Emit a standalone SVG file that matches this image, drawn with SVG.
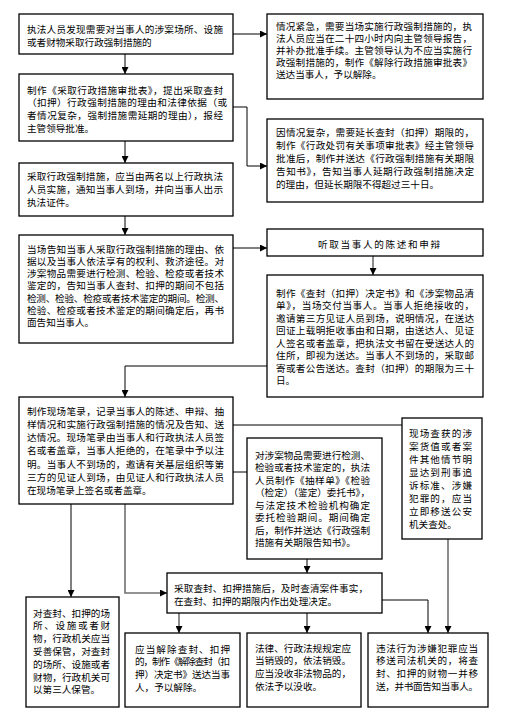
<svg xmlns="http://www.w3.org/2000/svg" width="530" height="724" viewBox="0 0 530 724">
<style>
.b{fill:#fff;stroke:#000;stroke-width:1.3}
.t{font-family:"Noto Sans CJK SC","Noto Sans CJK TC",sans-serif;font-size:9.6px;fill:#000}
.c{fill:none;stroke:#000;stroke-width:1}
.g{fill:none;stroke:#707070;stroke-width:1.6}
</style>
<defs>
<marker id="ah" viewBox="0 0 8 8" refX="8" refY="4" markerWidth="7" markerHeight="7" orient="auto" markerUnits="userSpaceOnUse"><path d="M0,0 L8,4 L0,8 z" fill="#000"/></marker>
</defs>
<rect width="530" height="724" fill="#fff"/>
<g id="connectors">
<path class="c" d="M233,34 H267" marker-end="url(#ah)"/>
<path class="c" d="M125,54 V74" marker-end="url(#ah)"/>
<path class="c" d="M233,107 H247 V166 H267" marker-end="url(#ah)"/>
<path class="c" d="M125,141 V163" marker-end="url(#ah)"/>
<path class="c" d="M125,216 V235" marker-end="url(#ah)"/>
<path class="c" d="M233,248 H267" marker-end="url(#ah)"/>
<path class="g" d="M373,256 V275" marker-end="url(#ah)"/>
<path class="c" d="M267,366 H125 V397" marker-end="url(#ah)"/>
<path class="c" d="M233,425 H402"/>
<path class="c" d="M233,472 H247"/>
<path class="c" d="M307,559 V573" marker-end="url(#ah)"/>
<path class="c" d="M71,504 V597" marker-end="url(#ah)"/>
<path class="g" d="M125,504 V593 H167" marker-end="url(#ah)"/>
<path class="g" d="M179,613 V633" marker-end="url(#ah)"/>
<path class="c" d="M307,613 V633" marker-end="url(#ah)"/>
<path class="c" d="M382,600 H428 V633" marker-end="url(#ah)"/>
<path class="g" d="M448,539 V633" marker-end="url(#ah)"/>
</g>
<g id="nodeA">
<rect class="b" x="19" y="14" width="214" height="40"/>
<text class="t" x="27" y="33" textLength="196" lengthAdjust="spacing">执法人员发现需要对当事人的涉案场所、设施</text>
<text class="t" x="27" y="46">或者财物采取行政强制措施的</text>
</g>
<g id="nodeB">
<rect class="b" x="267" y="14" width="216" height="85"/>
<text class="t" x="276" y="29.5" textLength="196" lengthAdjust="spacing">情况紧急，需要当场实施行政强制措施的，执</text>
<text class="t" x="276" y="41.5" textLength="196" lengthAdjust="spacing">法人员应当在二十四小时内向主管领导报告，</text>
<text class="t" x="276" y="53.5" textLength="196" lengthAdjust="spacing">并补办批准手续。主管领导认为不应当实施行</text>
<text class="t" x="276" y="65.5" textLength="196" lengthAdjust="spacing">政强制措施的，制作《解除行政措施审批表》</text>
<text class="t" x="276" y="77.5">送达当事人，予以解除。</text>
</g>
<g id="nodeC">
<rect class="b" x="19" y="74" width="214" height="67"/>
<text class="t" x="27" y="93.5" textLength="196" lengthAdjust="spacing">制作《采取行政措施审批表》，提出采取查封</text>
<text class="t" x="27" y="106" textLength="200" lengthAdjust="spacing">（扣押）行政强制措施的理由和法律依据（或</text>
<text class="t" x="27" y="119" textLength="196" lengthAdjust="spacing">者情况复杂，强制措施需延期的理由），报经</text>
<text class="t" x="27" y="131.5">主管领导批准。</text>
</g>
<g id="nodeD">
<rect class="b" x="267" y="119" width="216" height="83"/>
<text class="t" x="276" y="135.5" textLength="198" lengthAdjust="spacing">因情况复杂，需要延长查封（扣押）期限的，</text>
<text class="t" x="276" y="148.5" textLength="198" lengthAdjust="spacing">制作《行政处罚有关事项审批表》经主管领导</text>
<text class="t" x="276" y="161.5" textLength="198" lengthAdjust="spacing">批准后，制作并送达《行政强制措施有关期限</text>
<text class="t" x="276" y="174.5" textLength="198" lengthAdjust="spacing">告知书》，告知当事人延期行政强制措施决定</text>
<text class="t" x="276" y="187.5">的理由，但延长期限不得超过三十日。</text>
</g>
<g id="nodeE">
<rect class="b" x="19" y="163" width="214" height="53"/>
<text class="t" x="27" y="179.5" textLength="196" lengthAdjust="spacing">采取行政强制措施，应当由两名以上行政执法</text>
<text class="t" x="27" y="192.5" textLength="196" lengthAdjust="spacing">人员实施，通知当事人到场，并向当事人出示</text>
<text class="t" x="27" y="205.5">执法证件。</text>
</g>
<g id="nodeF">
<rect class="b" x="19" y="235" width="214" height="108"/>
<text class="t" x="27" y="252.5" textLength="197" lengthAdjust="spacing">当场告知当事人采取行政强制措施的理由、依</text>
<text class="t" x="27" y="264.8" textLength="197" lengthAdjust="spacing">据以及当事人依法享有的权利、救济途径。对</text>
<text class="t" x="27" y="277.1" textLength="197" lengthAdjust="spacing">涉案物品需要进行检测、检验、检疫或者技术</text>
<text class="t" x="27" y="289.4" textLength="197" lengthAdjust="spacing">鉴定的，告知当事人查封、扣押的期间不包括</text>
<text class="t" x="27" y="301.7" textLength="197" lengthAdjust="spacing">检测、检验、检疫或者技术鉴定的期间。检测、</text>
<text class="t" x="27" y="314" textLength="197" lengthAdjust="spacing">检验、检疫或者技术鉴定的期间确定后，再书</text>
<text class="t" x="27" y="326.3">面告知当事人。</text>
</g>
<g id="nodeG">
<rect class="b" x="267" y="229" width="216" height="27"/>
<text class="t" x="318" y="247.5" textLength="122" lengthAdjust="spacing">听取当事人的陈述和申辩</text>
</g>
<g id="nodeH">
<rect class="b" x="267" y="275" width="216" height="122"/>
<text class="t" x="276" y="296.5" textLength="198" lengthAdjust="spacing">制作《查封（扣押）决定书》和《涉案物品清</text>
<text class="t" x="276" y="309" textLength="198" lengthAdjust="spacing">单》，当场交付当事人。当事人拒绝接收的，</text>
<text class="t" x="276" y="321.5" textLength="198" lengthAdjust="spacing">邀请第三方见证人员到场，说明情况，在送达</text>
<text class="t" x="276" y="334" textLength="198" lengthAdjust="spacing">回证上载明拒收事由和日期，由送达人、见证</text>
<text class="t" x="276" y="346.5" textLength="198" lengthAdjust="spacing">人签名或者盖章，把执法文书留在受送达人的</text>
<text class="t" x="276" y="359" textLength="198" lengthAdjust="spacing">住所，即视为送达。当事人不到场的，采取邮</text>
<text class="t" x="276" y="371.5" textLength="198" lengthAdjust="spacing">寄或者公告送达。查封（扣押）的期限为三十</text>
<text class="t" x="276" y="384">日。</text>
</g>
<g id="nodeI">
<rect class="b" x="19" y="397" width="214" height="107"/>
<text class="t" x="27" y="414.5" textLength="197" lengthAdjust="spacing">制作现场笔录，记录当事人的陈述、申辩、抽</text>
<text class="t" x="27" y="427.8" textLength="197" lengthAdjust="spacing">样情况和实施行政强制措施的情况及告知、送</text>
<text class="t" x="27" y="441" textLength="197" lengthAdjust="spacing">达情况。现场笔录由当事人和行政执法人员签</text>
<text class="t" x="27" y="454.4" textLength="197" lengthAdjust="spacing">名或者盖章，当事人拒绝的，在笔录中予以注</text>
<text class="t" x="27" y="467.7" textLength="197" lengthAdjust="spacing">明。当事人不到场的，邀请有关基层组织等第</text>
<text class="t" x="27" y="481" textLength="197" lengthAdjust="spacing">三方的见证人到场，由见证人和行政执法人员</text>
<text class="t" x="27" y="494.3">在现场笔录上签名或者盖章。</text>
</g>
<g id="nodeJ">
<rect class="b" x="247" y="438" width="135" height="121"/>
<text class="t" x="255" y="458.5" textLength="115" lengthAdjust="spacing">对涉案物品需要进行检测、</text>
<text class="t" x="255" y="471" textLength="115" lengthAdjust="spacing">检验或者技术鉴定的，执法</text>
<text class="t" x="255" y="483.5" textLength="115" lengthAdjust="spacing">人员制作《抽样单》《检验</text>
<text class="t" x="255" y="496" textLength="115" lengthAdjust="spacing">（检定）（鉴定）委托书》，</text>
<text class="t" x="255" y="508.5" textLength="115" lengthAdjust="spacing">与法定技术检验机构确定</text>
<text class="t" x="255" y="521" textLength="115" lengthAdjust="spacing">委托检验期间。期间确定</text>
<text class="t" x="255" y="533.5" textLength="115" lengthAdjust="spacing">后，制作并送达《行政强制</text>
<text class="t" x="255" y="546">措施有关期限告知书》。</text>
</g>
<g id="nodeK">
<rect class="b" x="402" y="418" width="80" height="121"/>
<text class="t" x="409" y="436.5" textLength="63" lengthAdjust="spacing">现场查获的涉</text>
<text class="t" x="409" y="449.6" textLength="63" lengthAdjust="spacing">案货值或者案</text>
<text class="t" x="409" y="462.7" textLength="63" lengthAdjust="spacing">件其他情节明</text>
<text class="t" x="409" y="475.8" textLength="63" lengthAdjust="spacing">显达到刑事追</text>
<text class="t" x="409" y="488.9" textLength="63" lengthAdjust="spacing">诉标准、涉嫌</text>
<text class="t" x="409" y="502" textLength="63" lengthAdjust="spacing">犯罪的，应当</text>
<text class="t" x="409" y="515.1" textLength="63" lengthAdjust="spacing">立即移送公安</text>
<text class="t" x="409" y="528.2">机关查处。</text>
</g>
<g id="nodeL">
<rect class="b" x="167" y="573" width="215" height="40"/>
<text class="t" x="174" y="591.5" textLength="194" lengthAdjust="spacing">采取查封、扣押措施后，及时查清案件事实，</text>
<text class="t" x="174" y="605">在查封、扣押的期限内作出处理决定。</text>
</g>
<g id="nodeM">
<rect class="b" x="26" y="597" width="93" height="110"/>
<text class="t" x="33" y="616.5" textLength="77" lengthAdjust="spacing">对查封、扣押的场</text>
<text class="t" x="33" y="629.3" textLength="77" lengthAdjust="spacing">所、设施或者财</text>
<text class="t" x="33" y="642.1" textLength="77" lengthAdjust="spacing">物，行政机关应当</text>
<text class="t" x="33" y="654.9" textLength="77" lengthAdjust="spacing">妥善保管，对查封</text>
<text class="t" x="33" y="667.7" textLength="77" lengthAdjust="spacing">的场所、设施或者</text>
<text class="t" x="33" y="680.5" textLength="77" lengthAdjust="spacing">财物，行政机关可</text>
<text class="t" x="33" y="693.3">以第三人保管。</text>
</g>
<g id="nodeN">
<rect class="b" x="125" y="633" width="115" height="74"/>
<text class="t" x="135" y="652.5" textLength="95" lengthAdjust="spacing">应当解除查封、扣押</text>
<text class="t" x="135" y="665.3" textLength="95" lengthAdjust="spacing">的，制作《解除查封（扣</text>
<text class="t" x="135" y="678.1" textLength="95" lengthAdjust="spacing">押）决定书》送达当事</text>
<text class="t" x="135" y="690.9">人，予以解除。</text>
</g>
<g id="nodeO">
<rect class="b" x="247" y="633" width="114" height="74"/>
<text class="t" x="255" y="651.5" textLength="96" lengthAdjust="spacing">法律、行政法规规定应</text>
<text class="t" x="255" y="664.3" textLength="96" lengthAdjust="spacing">当销毁的，依法销毁。</text>
<text class="t" x="255" y="677" textLength="96" lengthAdjust="spacing">应当没收非法物品的，</text>
<text class="t" x="255" y="689.8">依法予以没收。</text>
</g>
<g id="nodeP">
<rect class="b" x="368" y="633" width="120" height="74"/>
<text class="t" x="376" y="651.5" textLength="102" lengthAdjust="spacing">违法行为涉嫌犯罪应当</text>
<text class="t" x="376" y="664.3" textLength="102" lengthAdjust="spacing">移送司法机关的，将查</text>
<text class="t" x="376" y="677" textLength="102" lengthAdjust="spacing">封、扣押的财物一并移</text>
<text class="t" x="376" y="689.8" textLength="102" lengthAdjust="spacing">送，并书面告知当事人。</text>
</g>
</svg>
